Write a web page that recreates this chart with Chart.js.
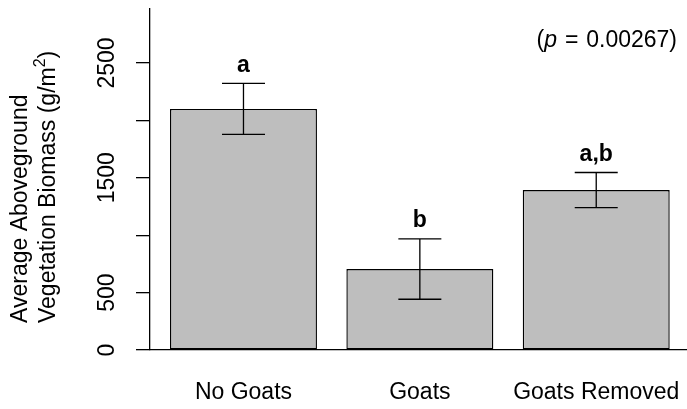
<!DOCTYPE html>
<html>
<head>
<meta charset="utf-8">
<script src="https://cdn.jsdelivr.net/npm/chart.js@4.4.0/dist/chart.umd.min.js"></script>
<style>
  html, body { margin: 0; padding: 0; background: #ffffff; }
  #wrap { position: relative; width: 687px; height: 409px; }
</style>
</head>
<body>
<div id="wrap"><canvas id="c" width="687" height="409"></canvas></div>
<script>
// ---- data ----
const categories = ["No Goats", "Goats", "Goats Removed"];
const means = [2100, 705, 1393];          // average biomass (g/m^2)
const errors = [222, 263, 153];           // error bar half-lengths
const letters = ["a", "b", "a,b"];        // significance groups
const yTicks = [0, 500, 1000, 1500, 2000, 2500];
const yTickLabels = ["0", "500", "", "1500", "", "2500"];
const pText = "0.00267";
const yTitleLines = ["Average Aboveground", "Vegetation Biomass (g/m"];

const FONT = "'Liberation Sans', Arial, Helvetica, sans-serif";
const FS = 23;

const annotations = {
  id: 'annotations',
  afterDatasetsDraw(chart) {
    const ctx = chart.ctx;
    const xs = chart.scales.x, ys = chart.scales.y;
    ctx.save();
    ctx.strokeStyle = '#000';
    ctx.lineWidth = 1.3;
    ctx.fillStyle = '#000';
    for (let i = 0; i < means.length; i++) {
      const x = xs.getPixelForValue(i);
      const yt = ys.getPixelForValue(means[i] + errors[i]);
      const yb = ys.getPixelForValue(means[i] - errors[i]);
      const hw = 21.5;
      ctx.beginPath();
      ctx.moveTo(x, yt); ctx.lineTo(x, yb);
      ctx.moveTo(x - hw, yt); ctx.lineTo(x + hw, yt);
      ctx.moveTo(x - hw, yb); ctx.lineTo(x + hw, yb);
      ctx.stroke();
      ctx.font = 'bold ' + FS + 'px ' + FONT;
      ctx.textAlign = 'center';
      ctx.textBaseline = 'alphabetic';
      ctx.fillText(letters[i], x, yt - 11.5);
    }
    // p-value text, right aligned: "(p = 0.00267)"
    ctx.textBaseline = 'alphabetic';
    ctx.textAlign = 'left';
    const normal = FS + 'px ' + FONT;
    const italic = 'italic ' + FS + 'px ' + FONT;
    const gap = 1.5;
    const parts = [["(", normal, 0], ["p", italic, 0], [" = ", normal, gap], [pText + ")", normal, gap]];
    let total = 0;
    parts.forEach(p => { ctx.font = p[1]; total += ctx.measureText(p[0]).width + p[2]; });
    let px = 677 - total;
    parts.forEach(p => { ctx.font = p[1]; px += p[2]; ctx.fillText(p[0], px, 47); px += ctx.measureText(p[0]).width; });

    // y-axis title: two rotated lines, start-aligned
    ctx.save();
    ctx.translate(27, 323);
    ctx.rotate(-Math.PI / 2);
    ctx.font = normal;
    ctx.textAlign = 'left';
    ctx.fillText(yTitleLines[0], 0, 0);
    ctx.restore();
    ctx.save();
    ctx.translate(55, 323);
    ctx.rotate(-Math.PI / 2);
    ctx.font = normal;
    ctx.textAlign = 'left';
    ctx.fillText(yTitleLines[1], 0, 0);
    let w = ctx.measureText(yTitleLines[1]).width;
    ctx.font = Math.round(FS * 0.7) + 'px ' + FONT;
    ctx.fillText("2", w, -FS * 0.45);
    w += ctx.measureText("2").width;
    ctx.font = normal;
    ctx.fillText(")", w, 0);
    ctx.restore();
    ctx.restore();
  }
};

new Chart(document.getElementById('c'), {
  type: 'bar',
  data: {
    labels: categories,
    datasets: [{
      data: means.map((m, i) => ({ x: i, y: m })),
      backgroundColor: '#bebebe',
      borderColor: '#000000',
      borderWidth: 1.4,
      borderSkipped: false,
      barPercentage: 0.8333,
      categoryPercentage: 1.0
    }]
  },
  options: {
    responsive: false,
    animation: false,
    devicePixelRatio: 1,
    layout: { padding: { left: 0, top: 9, right: 1, bottom: 0 } },
    plugins: { legend: { display: false }, tooltip: { enabled: false }, title: { display: false } },
    scales: {
      x: {
        type: 'linear',
        offset: false,
        min: -0.530,
        max: 2.509,
        afterBuildTicks: (s) => { s.ticks = categories.map((c, i) => ({ value: i })); },
        afterFit: (s) => { s.height = 59; s.paddingLeft = 0; s.paddingRight = 0; },
        grid: { display: false, drawTicks: false },
        border: { display: true, color: '#000', width: 1.3 },
        ticks: {
          autoSkip: false,
          maxRotation: 0,
          padding: 29,
          color: '#000',
          font: { family: FONT, size: FS },
          callback: (v, i) => categories[i]
        }
      },
      y: {
        type: 'linear',
        min: 0,
        max: 2970,
        afterBuildTicks: (s) => { s.ticks = yTicks.map(v => ({ value: v })); },
        afterFit: (s) => { s.width = 150; s.paddingTop = 0; s.paddingBottom = 0; },
        grid: { drawOnChartArea: false, drawTicks: true, tickLength: 14, color: '#000', lineWidth: 1.3 },
        border: { display: true, color: '#000', width: 1.3 },
        ticks: {
          autoSkip: false,
          minRotation: 90,
          maxRotation: 90,
          crossAlign: 'center',
          padding: 3,
          color: '#000',
          font: { family: FONT, size: FS },
          callback: (v, i) => yTickLabels[i]
        }
      }
    }
  },
  plugins: [annotations]
});
</script>
</body>
</html>
